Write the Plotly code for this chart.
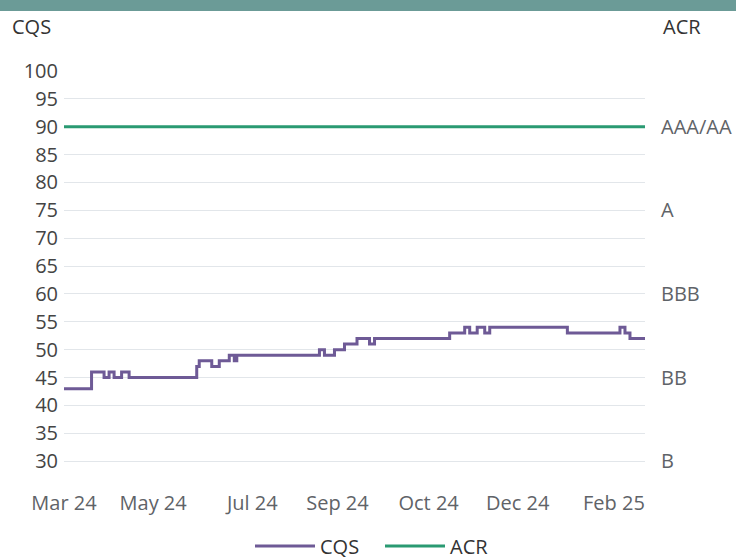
import plotly.graph_objects as go

# ---- data ----
# CQS step series: observation index at which a new score starts, and the score
cqs_obs = [0, 11, 16, 18, 20, 23, 26, 53, 54, 59, 62, 66, 68, 69, 102, 104, 108, 112,
           117, 122, 124, 154, 160, 162, 165, 168, 170, 201, 222, 224, 226, 232]
cqs_val = [43, 46, 45, 46, 45, 46, 45, 47, 48, 47, 48, 49, 48, 49, 50, 49, 50, 51,
           52, 51, 52, 53, 54, 53, 54, 53, 54, 53, 54, 53, 52, 52]

acr_obs = [0, 232]
acr_val = [90, 90]

x_tick_obs = [0, 35.6, 75.2, 109.2, 145.6, 181.2, 219.6]
x_tick_text = ["Mar 24", "May 24", "Jul 24", "Sep 24", "Oct 24", "Dec 24", "Feb 25"]

cqs_ticks = [30, 35, 40, 45, 50, 55, 60, 65, 70, 75, 80, 85, 90, 95, 100]
acr_tickvals = [90, 75, 60, 45, 30]
acr_ticktext = ["AAA/AA", "A", "BBB", "BB", "B"]

# ---- layout constants ----
W, H = 736, 560
ML, MR, MT, MB = 64, 91, 71, 71
PW, PH = W - ML - MR, H - MT - MB

def px_x(px):
    return (px - ML) / PW

def px_y(py):
    return (H - MB - py) / PH

FONT = "Open Sans"
FS = 20
PURPLE = "#6e5a96"
GREEN = "#2a9a72"
GRID = "#e2e6ea"
TICK = "#5f6368"

fig = go.Figure()
fig.add_trace(go.Scatter(x=cqs_obs, y=cqs_val, mode="lines", name="CQS",
                         line=dict(color=PURPLE, width=3, shape="hv"), yaxis="y"))
fig.add_trace(go.Scatter(x=acr_obs, y=acr_val, mode="lines", name="ACR",
                         line=dict(color=GREEN, width=3), yaxis="y2"))

fig.update_layout(
    width=W, height=H,
    margin=dict(l=ML, r=MR, t=MT, b=MB, autoexpand=False),
    paper_bgcolor="white", plot_bgcolor="white",
    font=dict(family=FONT, size=FS, color=TICK),
    showlegend=True,
    legend=dict(orientation="h", x=px_x(250), xanchor="left", y=px_y(546), yanchor="middle",
                font=dict(size=FS, color="#333333"), itemwidth=60,
                entrywidth=55, entrywidthmode="pixels"),
    xaxis=dict(range=[0, 232], tickvals=x_tick_obs, ticktext=x_tick_text,
               showgrid=False, zeroline=False, showline=False, ticks="",
               tickfont=dict(size=FS, color=TICK), fixedrange=True),
    yaxis=dict(range=[25, 100], tickvals=cqs_ticks, showgrid=True, gridcolor=GRID,
               gridwidth=1, zeroline=False, showline=False, ticks="",
               tickfont=dict(size=FS, color="#444444"), ticklabelstandoff=5),
    yaxis2=dict(range=[25, 100], overlaying="y", side="right", tickvals=acr_tickvals,
                ticktext=acr_ticktext, showgrid=False, zeroline=False, showline=False,
                ticks="", tickfont=dict(size=FS, color=TICK), ticklabelstandoff=15),
    shapes=[dict(type="rect", xref="paper", yref="paper", x0=px_x(0), x1=px_x(W),
                 y0=px_y(11), y1=px_y(0), fillcolor="#6b9b97", line=dict(width=0),
                 layer="above")],
    annotations=[
        dict(text="CQS", xref="paper", yref="paper", x=px_x(10), y=px_y(27),
             xanchor="left", yanchor="middle", showarrow=False,
             font=dict(size=FS, color="#333333")),
        dict(text="ACR", xref="paper", yref="paper", x=px_x(661), y=px_y(27),
             xanchor="left", yanchor="middle", showarrow=False,
             font=dict(size=FS, color="#333333")),
    ],
)

fig.write_html("out.html", config={"displayModeBar": False},
               post_script="document.body.style.margin='0';")
